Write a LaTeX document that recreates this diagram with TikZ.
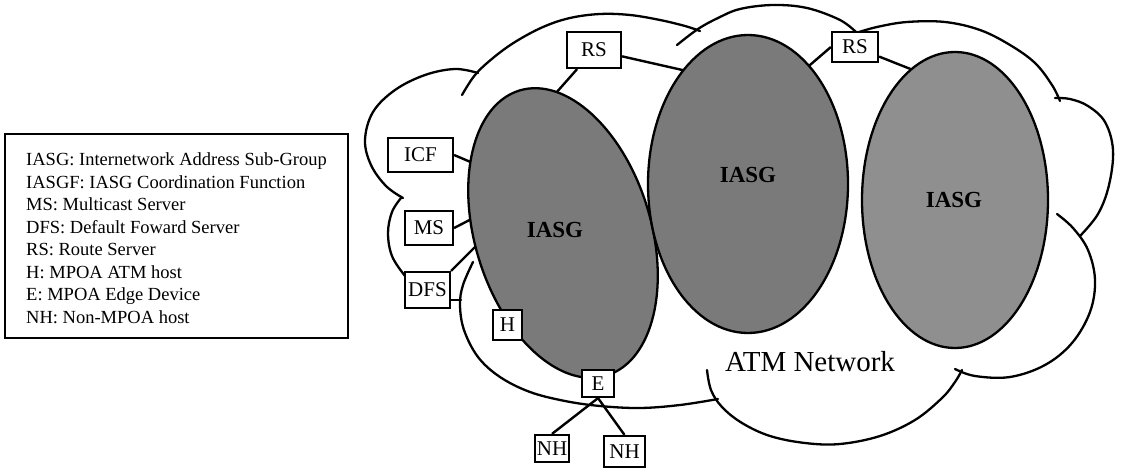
\documentclass[tikz,border=0pt]{standalone}
\usepackage{fontspec}
\setmainfont{Liberation Serif}
\usetikzlibrary{shapes.geometric}
\begin{document}
\begin{tikzpicture}[x=1pt,y=-1pt,
  lobe/.style={line width=2.3pt, line cap=round},
  conn/.style={line width=2.4pt},
  box/.style={draw, fill=white, line width=2.2pt, inner sep=0pt, font=\fontsize{21}{23}\selectfont},
  iasg/.style={ellipse, draw, line width=2.3pt, inner sep=0pt},
  lbl/.style={font=\fontsize{23}{25}\selectfont\bfseries},
  legendbox/.style={draw, line width=1.9pt, inner sep=0pt},
  legendtext/.style={align=left, inner sep=0pt, font=\fontsize{18.5}{22.5}\selectfont}]
\useasboundingbox (0,0) rectangle (1122,468);

% legend
\node[legendbox, minimum width=343, minimum height=204, anchor=north west] (legend) at (4,133) {};
\node[legendtext, anchor=west] (legendtxt) at (26,238) {IASG: Internetwork Address Sub-Group\\
IASGF: IASG Coordination Function\\
MS: Multicast Server\\
DFS: Default Foward Server\\
RS: Route Server\\
H: MPOA ATM host\\
E: MPOA Edge Device\\
NH: Non-MPOA host};

% cloud outline (ATM network)
\draw[lobe] plot[smooth, tension=0.6] coordinates {(403,198) (386,186) (371,165) (365,140) (373,112) (395,90) (425,75) (455,69) (478,73)};
\draw[lobe] plot[smooth, tension=0.6] coordinates {(401,198) (392,212) (388,233) (392,256) (405,276) (412,283)};
\draw[lobe] plot[smooth, tension=0.6] coordinates {(473,262) (463,285) (460,305) (464,330) (478,357) (500,377) (530,392) (565,401) (600,406) (640,408) (680,405) (718,399)};
\draw[lobe] plot[smooth, tension=0.6] coordinates {(707,370) (711,390) (722,407) (742,423) (770,436) (805,443) (840,444) (880,436) (915,420) (942,398) (955,382) (962,370)};
\draw[lobe] plot[smooth, tension=0.6] coordinates {(955,369) (975,376) (1010,377) (1045,365) (1072,343) (1090,312) (1095,280) (1088,250) (1073,228) (1057,214)};
\draw[lobe] plot[smooth, tension=0.6] coordinates {(1080,236) (1098,214) (1109,185) (1113,150) (1105,122) (1088,106) (1070,99) (1055,98)};
\draw[lobe] plot[smooth, tension=0.6] coordinates {(1060,101) (1052,85) (1035,63) (1010,45) (980,30) (945,22) (907,22) (877,27) (856,33)};
\draw[lobe] plot[smooth, tension=0.6] coordinates {(857,33) (840,20) (807,8) (773,5) (740,9) (718,18) (698,29) (677,45)};
\draw[lobe] plot[smooth, tension=0.6] coordinates {(462,95) (475,75) (493,58) (515,42) (543,27) (570,18) (600,14) (630,15) (660,20) (685,26) (700,31)};
\coordinate (l3a) at (461,300);

% boxes
\node[box, minimum width=65, minimum height=34] (icf) at (420.5,155) {ICF};
\node[box, minimum width=48, minimum height=34] (ms) at (429,228) {MS};
\node[box, minimum width=45, minimum height=36] (dfs) at (427.5,290) {DFS};
\node[box, minimum width=54, minimum height=36] (rs1) at (594,50) {RS};
\node[box, minimum width=46, minimum height=30] (rs2) at (855,47) {RS};

% connector targets inside the IASG ellipses
\coordinate (icfT) at (487,169);
\coordinate (msT) at (487,211);
\coordinate (dfsT) at (484,238);
\coordinate (rs1a) at (548,102);
\coordinate (rs1b) at (700,74);
\coordinate (rs2a) at (803,71);
\coordinate (rs2b) at (918,72);

\draw[conn] (icf.east) -- (icfT);
\draw[conn] (ms.east) -- (msT);
\draw[conn] (dfs.north east) -- (dfsT);
\draw[conn] (rs1) -- (rs1a);
\draw[conn] (rs1) -- (rs1b);
\draw[conn] (rs2.west) -- (rs2a);
\draw[conn] (rs2) -- (rs2b);
\draw[lobe] (dfs.east |- l3a) -- (l3a);

% IASG ellipses
\node[iasg, fill=black!52, minimum width=176, minimum height=298, rotate=17] (e1) at (563,233) {};
\node[iasg, fill=black!52, minimum width=200, minimum height=298] (e2) at (748,184) {};
\node[iasg, fill=black!44, minimum width=186, minimum height=296] (e3) at (955,200) {};
\node[lbl] (t1) at (555,230) {IASG};
\node[lbl] (t2) at (748,175) {IASG};
\node[lbl] (t3) at (954,200) {IASG};

% redraw boxes on top of the ellipses
\node[box, minimum width=65, minimum height=34] at (icf) {ICF};
\node[box, minimum width=48, minimum height=34] at (ms) {MS};
\node[box, minimum width=45, minimum height=36] at (dfs) {DFS};
\node[box, minimum width=54, minimum height=36] at (rs1) {RS};
\node[box, minimum width=46, minimum height=30] at (rs2) {RS};
\node[box, minimum width=29, minimum height=30] (h) at (507.5,325) {H};
\node[box, minimum width=32, minimum height=27] (e) at (598,383.5) {E};
\node[box, minimum width=34, minimum height=27] (nh1) at (552,448.5) {NH};
\node[box, minimum width=41, minimum height=31] (nh2) at (624.5,451.5) {NH};
\draw[conn] (e.south) -- (nh1.north);
\draw[conn] (e.south) -- (nh2.north);

% network label
\node[font=\fontsize{29}{31}\selectfont] (atm) at (810,362) {ATM Network};
\end{tikzpicture}
\end{document}
